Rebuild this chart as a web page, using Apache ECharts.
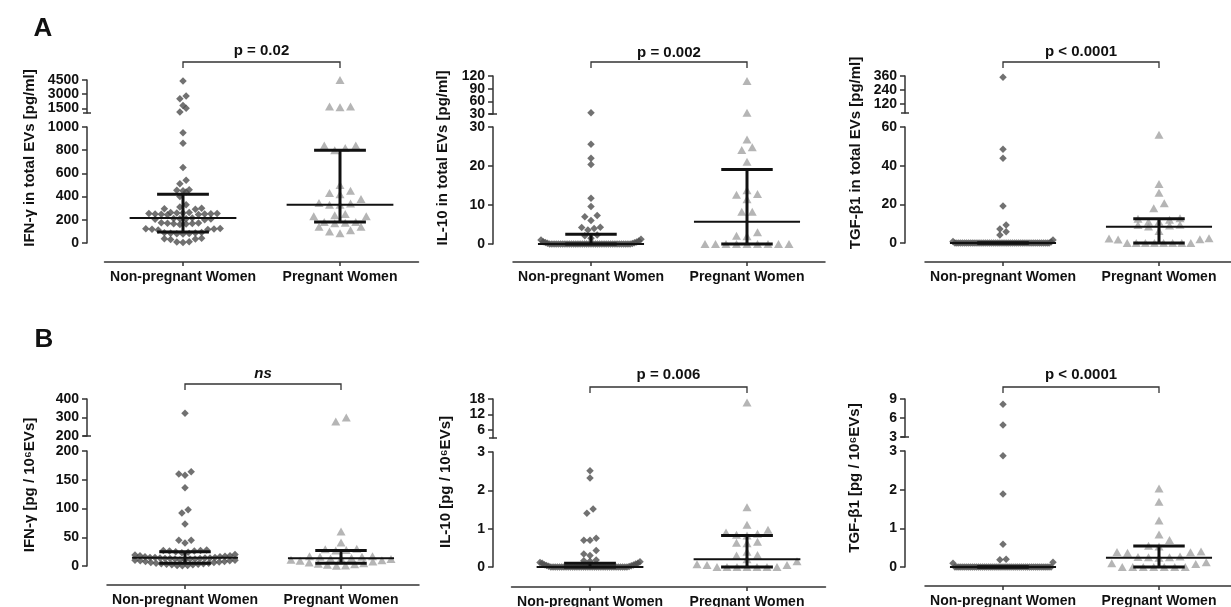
<!DOCTYPE html>
<html><head><meta charset="utf-8">
<script src="https://cdn.jsdelivr.net/npm/echarts@6/dist/echarts.min.js"></script>
<style>html,body{margin:0;padding:0;background:#fff}#c{width:1231px;height:607px}</style>
</head><body><div id="c"></div>
<script>
// ---------------- DATA ----------------
const categories = ['Non-pregnant Women', 'Pregnant Women'];
const panelLetters = ['A', 'B'];
const yTitles = ['IFN-γ in total EVs [pg/ml]', 'IL-10 in total EVs [pg/ml]', 'TGF-β1 in total EVs [pg/ml]',
                 'IFN-γ [pg / 10⁶EVs]', 'IL-10 [pg / 10⁶EVs]', 'TGF-β1 [pg / 10⁶EVs]'];
const pLabels = ['p = 0.02', 'p = 0.002', 'p < 0.0001', 'ns', 'p = 0.006', 'p < 0.0001'];

// A1: IFN-γ in total EVs
const ifnTotalNP = [4400, 2800, 2500, 1800, 1500, 1100, 950, 860, 650, 540, 510, 460, 455, 450, 440, 400, 330, 310,
  300, 295, 290, 262, 258, 255, 252, 250, 248, 246, 244, 250, 254, 258, 262, 215, 212, 208, 204, 200, 206, 210,
  172, 168, 164, 160, 166, 170, 174, 125, 120, 116, 112, 118, 122, 90, 86, 82, 78, 84, 88, 80, 40, 36, 30, 34, 10, 5, 8];
const ifnTotalP = [4500, 1700, 1600, 1700, 840, 840, 820, 800, 500, 450, 430, 420, 380, 345, 340, 330, 330, 250, 240,
  230, 230, 180, 180, 175, 170, 140, 140, 110, 100, 85];
const ifnTotalStatsNP = [215, 95, 420];   // median, q1, q3
const ifnTotalStatsP = [330, 180, 800];
const ifnTotalTicks = [0, 200, 400, 600, 800, 1000];
const ifnTotalBreakTicks = [1500, 3000, 4500];

// A2: IL-10 in total EVs
const il10TotalNP = [33, 25.6, 22, 20.4, 11.7, 9.6, 7.3, 7, 6, 4.3, 4.2, 4, 3.6, 2.3, 2.1, 1.5, 1.2, 1.0, 0.8, 0.6, 0.5,
  0.4, 0.3, 0.2, 0.1, 0, 0, 0, 0, 0, 0, 0, 0, 0, 0, 0, 0, 0, 0, 0, 0, 0, 0, 0, 0, 0, 0, 0, 0, 0, 0, 0, 0, 0, 0, 0, 0, 0, 0, 0, 0, 0, 0];
const il10TotalP = [108, 33, 26.8, 24.8, 24.1, 21.1, 13.8, 12.8, 12.6, 11.5, 8.3, 8.3, 3.0, 2.1, 2.0, 0, 0, 0, 0, 0, 0, 0, 0, 0];
const il10TotalStatsNP = [0, 0, 2.5];
const il10TotalStatsP = [5.7, 0, 19.1];
const il10TotalTicks = [0, 10, 20, 30];
const il10TotalBreakTicks = [30, 60, 90, 120];

// A3: TGF-β1 in total EVs
const tgfTotalNP = [350, 48.5, 43.8, 19.1, 9.3, 7.2, 5.8, 4.1, 1.5, 0.8, 0.5, 0, 0, 0, 0, 0, 0, 0, 0, 0, 0, 0, 0, 0, 0, 0,
  0, 0, 0, 0, 0, 0, 0, 0, 0, 0, 0, 0, 0, 0, 0, 0, 0, 0, 0, 0, 0, 0, 0, 0, 0, 0, 0, 0, 0, 0, 0, 0, 0, 0, 0];
const tgfTotalP = [56, 30.5, 26, 20.5, 18, 12.8, 12.5, 12, 11, 11, 9.5, 9.3, 9, 8.5, 6.2, 2.5, 2.3, 2, 1.8, 0, 0, 0, 0, 0, 0, 0, 0];
const tgfTotalStatsNP = [0, 0, 0];
const tgfTotalStatsP = [8.4, 0, 12.5];
const tgfTotalTicks = [0, 20, 40, 60];
const tgfTotalBreakTicks = [120, 240, 360];

// B1: IFN-γ per 10^6 EVs
const ifnPerNP = [323, 164, 160, 158, 136, 98, 92, 73, 45, 45, 40, 28, 27, 27, 26, 26, 25, 24, 23, 20, 19, 18, 18, 17,
  16, 16, 15, 15, 15, 14, 14, 14, 13, 13, 13, 12, 12, 12, 11, 11, 10, 10, 9, 9, 8, 8, 7, 6, 6, 5, 5, 4, 4, 3, 3, 2, 2, 1, 1, 0.5];
const ifnPerP = [300, 278, 60, 41, 30, 29, 28, 27, 17, 17, 16, 16, 14, 13, 13, 12, 11, 10, 9, 8, 6, 5, 4, 3, 2, 1, 0.5];
const ifnPerStatsNP = [14.5, 5, 25];
const ifnPerStatsP = [13.4, 5, 27];
const ifnPerTicks = [0, 50, 100, 150, 200];
const ifnPerBreakTicks = [200, 300, 400];

// B2: IL-10 per 10^6 EVs
const il10PerNP = [2.51, 2.32, 1.51, 1.40, 0.75, 0.70, 0.70, 0.43, 0.34, 0.30, 0.18, 0.16, 0.15, 0.14, 0.12, 0.10, 0.10,
  0.08, 0.06, 0.05, 0.04, 0.03, 0.02, 0.01, 0, 0, 0, 0, 0, 0, 0, 0, 0, 0, 0, 0, 0, 0, 0, 0, 0, 0, 0, 0, 0, 0, 0, 0, 0, 0,
  0, 0, 0, 0, 0, 0, 0, 0, 0, 0];
const il10PerP = [16.7, 1.56, 1.10, 0.97, 0.90, 0.87, 0.84, 0.82, 0.66, 0.63, 0.62, 0.40, 0.31, 0.30, 0.20, 0.15, 0.07,
  0.05, 0.05, 0, 0, 0, 0, 0, 0, 0];
const il10PerStatsNP = [0, 0, 0.1];
const il10PerStatsP = [0.2, 0, 0.82];
const il10PerTicks = [0, 1, 2, 3];
const il10PerBreakTicks = [6, 12, 18];

// B3: TGF-β1 per 10^6 EVs
const tgfPerNP = [8.17, 4.9, 2.88, 1.89, 0.59, 0.20, 0.19, 0.12, 0.10, 0, 0, 0, 0, 0, 0, 0, 0, 0, 0, 0, 0, 0, 0, 0, 0,
  0, 0, 0, 0, 0, 0, 0, 0, 0, 0, 0, 0, 0, 0, 0, 0, 0, 0, 0, 0, 0, 0, 0, 0, 0, 0, 0, 0, 0, 0, 0, 0, 0, 0];
const tgfPerP = [2.03, 1.69, 1.20, 0.84, 0.70, 0.55, 0.53, 0.40, 0.39, 0.38, 0.37, 0.27, 0.26, 0.25, 0.25, 0.24, 0.12,
  0.10, 0.08, 0, 0, 0, 0, 0, 0, 0];
const tgfPerStatsNP = [0, 0, 0];
const tgfPerStatsP = [0.24, 0, 0.54];
const tgfPerTicks = [0, 1, 2, 3];
const tgfPerBreakTicks = [3, 6, 9];

// axis ranges (lower segment / upper segment after the break)
const lowRanges = [[0, 1000], [0, 30], [0, 60], [0, 200], [0, 3], [0, 3]];
const upRanges = [[1000, 4500], [30, 120], [40, 360], [200, 400], [3, 18], [3, 9]];

// ---------------- LAYOUT (pixels) ----------------
const LAYOUT = [
  {ax: 87, c1: 183, c2: 340, lowTop: 127, lowBot: 243, upTop: 80, upBot: 113, xAxisY: 262, brY: 62, txtY: 51, titleX: 30, titleY: 158},
  {ax: 493, c1: 591, c2: 747, lowTop: 127, lowBot: 244, upTop: 76, upBot: 114, xAxisY: 262, brY: 62, txtY: 53, titleX: 443, titleY: 158},
  {ax: 905, c1: 1003, c2: 1159, lowTop: 127, lowBot: 243, upTop: 76, upBot: 113, xAxisY: 262, brY: 62, txtY: 52, titleX: 856, titleY: 153},
  {ax: 87, c1: 185, c2: 341, lowTop: 451, lowBot: 566, upTop: 399, upBot: 436, xAxisY: 585, brY: 384, txtY: 374, titleX: 30, titleY: 485},
  {ax: 493, c1: 590, c2: 747, lowTop: 452, lowBot: 567, upTop: 399, upBot: 438, xAxisY: 587, brY: 387, txtY: 375, titleX: 446, titleY: 482},
  {ax: 905, c1: 1003, c2: 1159, lowTop: 451, lowBot: 567, upTop: 399, upBot: 437, xAxisY: 586, brY: 387, txtY: 375, titleX: 855, titleY: 478}
];
const LETTER_POS = [[43, 29], [44, 340]];

const panels = [
  {np: ifnTotalNP, p: ifnTotalP, sNP: ifnTotalStatsNP, sP: ifnTotalStatsP, lowTicks: ifnTotalTicks, upTicks: ifnTotalBreakTicks},
  {np: il10TotalNP, p: il10TotalP, sNP: il10TotalStatsNP, sP: il10TotalStatsP, lowTicks: il10TotalTicks, upTicks: il10TotalBreakTicks},
  {np: tgfTotalNP, p: tgfTotalP, sNP: tgfTotalStatsNP, sP: tgfTotalStatsP, lowTicks: tgfTotalTicks, upTicks: tgfTotalBreakTicks},
  {np: ifnPerNP, p: ifnPerP, sNP: ifnPerStatsNP, sP: ifnPerStatsP, lowTicks: ifnPerTicks, upTicks: ifnPerBreakTicks},
  {np: il10PerNP, p: il10PerP, sNP: il10PerStatsNP, sP: il10PerStatsP, lowTicks: il10PerTicks, upTicks: il10PerBreakTicks},
  {np: tgfPerNP, p: tgfPerP, sNP: tgfPerStatsNP, sP: tgfPerStatsP, lowTicks: tgfPerTicks, upTicks: tgfPerBreakTicks}
];

const FONT = 'Liberation Sans, Arial, sans-serif';
const AXIS_COLOR = '#333';
const NP_COLOR = '#4e4e4e';
const P_COLOR = '#a3a3a3';

// GraphPad-style row scatter: points binned in rows by pixel height, spread centre-outwards
function swarm(values, toPx, center, unitPx, spacing, rowH, maxHalf) {
  const items = values.map(v => ({v: v, py: toPx(v)})).sort((a, b) => a.v - b.v);
  const rows = []; let cur = null;
  items.forEach(it => {
    if (!cur || Math.abs(it.py - cur.py0) > rowH) { cur = {py0: it.py, list: []}; rows.push(cur); }
    cur.list.push(it);
  });
  const out = [];
  rows.forEach(r => {
    const n = r.list.length;
    const sp = n > 1 ? Math.min(spacing, 2 * maxHalf / (n - 1)) : 0;
    r.list.forEach((it, k) => {
      let off;
      if (n % 2 === 1) off = k === 0 ? 0 : Math.ceil(k / 2) * (k % 2 ? -1 : 1);
      else off = (Math.floor(k / 2) + 0.5) * (k % 2 ? 1 : -1);
      out.push([center + off * sp / unitPx, it.v]);
    });
  });
  return out;
}

const grids = [], xAxes = [], yAxes = [], series = [], graphics = [];
const labelStyle = {color: '#111', fontWeight: 'bold', fontSize: 14, fontFamily: FONT};

panels.forEach((P, i) => {
  const g = LAYOUT[i];
  const unit = g.c2 - g.c1;
  const left = g.c1 - unit / 2, width = 2 * unit;
  const lo = lowRanges[i], up = upRanges[i];
  const lowIdx = grids.length;
  grids.push({left: left, top: g.lowTop, width: width, height: g.lowBot - g.lowTop, outerBoundsMode: 'none', containLabel: false});
  const upIdx = grids.length;
  grids.push({left: left, top: g.upTop, width: width, height: g.upBot - g.upTop, outerBoundsMode: 'none', containLabel: false});

  xAxes.push({gridIndex: lowIdx, type: 'value', min: 0.5, max: 2.5, offset: g.xAxisY - g.lowBot,
    axisLine: {show: true, onZero: false, lineStyle: {color: AXIS_COLOR, width: 1.5}},
    axisTick: {show: true, customValues: [1, 2], length: 4, lineStyle: {color: AXIS_COLOR, width: 1.5}},
    axisLabel: Object.assign({show: true, customValues: [1, 2], margin: 8, formatter: v => categories[Math.round(v) - 1],
      showMinLabel: true, showMaxLabel: true}, labelStyle),
    splitLine: {show: false}});
  xAxes.push({gridIndex: upIdx, type: 'value', min: 0.5, max: 2.5, show: false});

  const yCommon = {type: 'value', position: 'left', offset: left - g.ax,
    axisLine: {show: true, onZero: false, lineStyle: {color: AXIS_COLOR, width: 1.5}},
    splitLine: {show: false}};
  const yLabel = ticks => Object.assign({show: true, customValues: ticks, interval: 0, margin: 8, formatter: v => String(v),
    showMinLabel: true, showMaxLabel: true, hideOverlap: false}, labelStyle);
  const yTick = ticks => ({show: true, customValues: ticks, interval: 0, length: 5, lineStyle: {color: AXIS_COLOR, width: 1.5}});
  yAxes.push(Object.assign({}, yCommon, {gridIndex: lowIdx, min: lo[0], max: lo[1],
    axisTick: yTick(P.lowTicks), axisLabel: yLabel(P.lowTicks)}));
  // upper (broken) segment: ticks are tightly packed, so split them over two overlaid axes
  const upEven = P.upTicks.filter((t, k) => k % 2 === 0);
  const upOdd = P.upTicks.filter((t, k) => k % 2 === 1);
  yAxes.push(Object.assign({}, yCommon, {gridIndex: upIdx, min: up[0], max: up[1],
    axisTick: yTick(upEven), axisLabel: yLabel(upEven)}));
  yAxes.push(Object.assign({}, yCommon, {gridIndex: upIdx, min: up[0], max: up[1],
    axisLine: {show: false}, axisTick: yTick(upOdd), axisLabel: yLabel(upOdd)}));
  const upAxisIdx = yAxes.length - 2;
  const lowAxisIdx = yAxes.length - 3;

  const toPxLow = v => g.lowBot - (v - lo[0]) / (lo[1] - lo[0]) * (g.lowBot - g.lowTop);
  const toPxUp = v => g.upBot - (v - up[0]) / (up[1] - up[0]) * (g.upBot - g.upTop);

  const groups = [
    {vals: P.np, center: 1, symbol: 'diamond', size: 7.5, color: NP_COLOR, spacing: 6.2, rowH: 5.5},
    {vals: P.p, center: 2, symbol: 'triangle', size: [9, 8], color: P_COLOR, spacing: 10.5, rowH: 7}
  ];
  groups.forEach(G => {
    const lowVals = G.vals.filter(v => v <= lo[1]);
    const upVals = G.vals.filter(v => v > lo[1]);
    series.push({type: 'scatter', xAxisIndex: lowIdx, yAxisIndex: lowAxisIdx, clip: false, silent: true, z: 2,
      symbol: G.symbol, symbolSize: G.size, itemStyle: {color: G.color},
      data: swarm(lowVals, toPxLow, G.center, unit, G.spacing, G.rowH, 50)});
    series.push({type: 'scatter', xAxisIndex: upIdx, yAxisIndex: upAxisIdx, clip: false, silent: true, z: 2,
      symbol: G.symbol, symbolSize: G.size, itemStyle: {color: G.color},
      data: swarm(upVals, toPxUp, G.center, unit, G.spacing, G.rowH, 50)});
  });

  // median & interquartile range
  series.push({type: 'custom', xAxisIndex: lowIdx, yAxisIndex: lowAxisIdx, silent: true, z: 5, clip: false,
    data: [[1].concat(P.sNP), [2].concat(P.sP)],
    renderItem: (params, api) => {
      const c = api.value(0), med = api.value(1), q1 = api.value(2), q3 = api.value(3);
      const mL = api.coord([c - 0.34, med]), mR = api.coord([c + 0.34, med]);
      const a1 = api.coord([c - 0.165, q1]), b1 = api.coord([c + 0.165, q1]);
      const a3 = api.coord([c - 0.165, q3]), b3 = api.coord([c + 0.165, q3]);
      const cx = api.coord([c, q1])[0];
      const ln = (p, q, w) => ({type: 'line', shape: {x1: p[0], y1: p[1], x2: q[0], y2: q[1]}, style: {stroke: '#111', lineWidth: w}});
      return {type: 'group', children: [
        ln(mL, mR, 2),
        {type: 'line', shape: {x1: cx, y1: a1[1], x2: cx, y2: a3[1]}, style: {stroke: '#111', lineWidth: 3}},
        ln(a1, b1, 3), ln(a3, b3, 3)
      ]};
    }});

  // break marker at the bottom of the upper segment
  graphics.push({type: 'line', shape: {x1: g.ax - 4, y1: g.upBot, x2: g.ax + 4, y2: g.upBot},
    style: {stroke: AXIS_COLOR, lineWidth: 1.5}, silent: true});
  // significance bracket
  graphics.push({type: 'polyline', shape: {points: [[g.c1, g.brY + 6], [g.c1, g.brY], [g.c2, g.brY], [g.c2, g.brY + 6]]},
    style: {stroke: AXIS_COLOR, lineWidth: 1.3, fill: null}, silent: true});
  graphics.push({type: 'text', x: (g.c1 + g.c2) / 2, y: g.txtY, silent: true,
    style: {text: pLabels[i], textAlign: 'center', textVerticalAlign: 'middle', fill: '#111',
      fontSize: 15, fontWeight: 'bold', fontStyle: pLabels[i] === 'ns' ? 'italic' : 'normal', fontFamily: FONT}});
  // y axis title
  graphics.push({type: 'text', x: g.titleX, y: g.titleY, rotation: Math.PI / 2, silent: true,
    style: {text: yTitles[i], textAlign: 'center', textVerticalAlign: 'middle', fill: '#111',
      fontSize: 15, fontWeight: 'bold', fontFamily: FONT}});
});

panelLetters.forEach((L, k) => {
  graphics.push({type: 'text', x: LETTER_POS[k][0], y: LETTER_POS[k][1], silent: true,
    style: {text: L, textAlign: 'center', textVerticalAlign: 'middle', fill: '#111', fontSize: 26, fontWeight: 'bold', fontFamily: FONT}});
});

const chart = echarts.init(document.getElementById('c'), null, {renderer: 'canvas'});
chart.setOption({
  animation: false,
  backgroundColor: '#fff',
  grid: grids, xAxis: xAxes, yAxis: yAxes, series: series,
  graphic: {elements: graphics}
});
</script>
</body></html>
